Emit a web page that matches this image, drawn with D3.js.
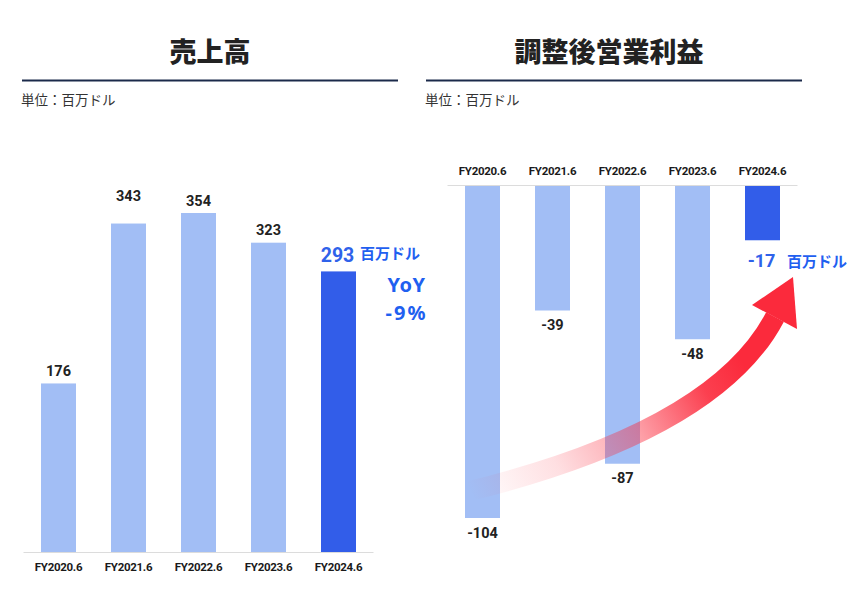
<!DOCTYPE html>
<html><head><meta charset="utf-8">
<script src="https://cdn.jsdelivr.net/npm/d3@7"></script>
<style>
html,body{margin:0;padding:0;background:#fff;}
svg{display:block;}
</style></head>
<body>
<script>
const categories = ["FY2020.6","FY2021.6","FY2022.6","FY2023.6","FY2024.6"];
const revenue = [176, 343, 354, 323, 293];
const adjOpIncome = [-104, -39, -87, -48, -17];
const titleLeft = "売上高";
const titleRight = "調整後営業利益";
const unitLabel = "単位：百万ドル";
const unitShort = "百万ドル";
const yoyLines = ["YoY", "-9%"];

const W = 865, H = 603;
const light = "#a2bef5", dark = "#325de9", blueText = "#2f62ea", ink = "#222";
const jp = "'Noto Sans CJK JP','Noto Sans',sans-serif";
const num = "Roboto,'Open Sans',sans-serif";

const svg = d3.select("body").append("svg").attr("width", W).attr("height", H);

// headers
function header(cx, x0, x1, title) {
  svg.append("text").attr("x", cx).attr("y", 50).attr("text-anchor","middle")
    .attr("dominant-baseline","central").attr("font-family", jp).attr("font-weight",900)
    .attr("font-size", 27).attr("fill", ink).text(title);
  svg.append("line").attr("x1", x0).attr("x2", x1).attr("y1", 80.5).attr("y2", 80.5)
    .attr("stroke", "#1b2a4a").attr("stroke-width", 2);
  svg.append("text").attr("x", x0 - 1).attr("y", 99).attr("dominant-baseline","central")
    .attr("font-family", jp).attr("font-size", 13.5).attr("fill", "#333").text(unitLabel);
}
header(210, 22, 398, titleLeft);
header(609, 426, 802, titleRight);

// ---------- Left chart: revenue ----------
const xL = d3.scaleBand().domain(categories).range([23.5, 373.5]).paddingInner(0.5).paddingOuter(0.25);
const yL = d3.scaleLinear().domain([0, 354]).range([552, 213]);
const last = categories.length - 1;

svg.append("g").selectAll("rect").data(revenue).join("rect")
  .attr("x", (d,i) => xL(categories[i])).attr("width", xL.bandwidth())
  .attr("y", d => yL(d)).attr("height", d => yL(0) - yL(d))
  .attr("fill", (d,i) => i === last ? dark : light);

const axL = svg.append("g").attr("transform", `translate(0,${yL(0)})`)
  .call(d3.axisBottom(xL).tickSize(0).tickPadding(11));
axL.select(".domain").attr("stroke", "#dcdcdc").attr("d", `M${xL.range()[0]},0.5H${xL.range()[1]}`);
axL.selectAll("text").attr("font-family", num).attr("font-weight", 700).attr("font-size", 11.5)
  .attr("fill", "#1a1a1a").attr("letter-spacing", -0.3);

svg.append("g").selectAll("text").data(revenue).join("text")
  .attr("x", (d,i) => xL(categories[i]) + xL.bandwidth()/2 + (i === last ? -1 : 0))
  .attr("y", (d,i) => yL(d) - (i === last ? 16 : (i === 1 ? 27 : 12)))
  .attr("text-anchor","middle").attr("dominant-baseline","central")
  .attr("font-family", num).attr("font-weight", 700)
  .attr("font-size", (d,i) => i === last ? 19.5 : 14.5)
  .attr("fill", (d,i) => i === last ? blueText : ink)
  .text(d => d);

svg.append("text").attr("x", 360).attr("y", 252).attr("dominant-baseline","central")
  .attr("font-family", jp).attr("font-weight", 700).attr("font-size", 15).attr("fill", "#1f60f0")
  .text(unitShort);
svg.append("g").selectAll("text").data(yoyLines).join("text")
  .attr("x", 406.5).attr("y", (d,i) => 284 + i*28).attr("text-anchor","middle")
  .attr("dominant-baseline","central").attr("font-family", "'Noto Sans',sans-serif")
  .attr("font-weight", 700).attr("font-size", 20).attr("fill", "#1f60f0")
  .attr("letter-spacing", (d,i) => i === 1 ? 2 : 0.5).text(d => d);

// ---------- Right chart: adjusted operating income ----------
const xR = d3.scaleBand().domain(categories).range([447.5, 797.5]).paddingInner(0.5).paddingOuter(0.25);
const yR = d3.scaleLinear().domain([0, -104]).range([186, 518]);

svg.append("g").selectAll("rect").data(adjOpIncome).join("rect")
  .attr("x", (d,i) => xR(categories[i])).attr("width", xR.bandwidth())
  .attr("y", yR(0)).attr("height", d => yR(d) - yR(0))
  .attr("fill", (d,i) => i === last ? dark : light);

const axR = svg.append("g").attr("transform", `translate(0,${yR(0)})`)
  .call(d3.axisTop(xR).tickSize(0).tickPadding(11));
axR.select(".domain").attr("stroke", "#dcdcdc").attr("d", `M${xR.range()[0]},-0.5H${xR.range()[1]}`);
axR.selectAll("text").attr("font-family", num).attr("font-weight", 700).attr("font-size", 11.5)
  .attr("fill", "#1a1a1a").attr("letter-spacing", -0.3);

svg.append("g").selectAll("text").data(adjOpIncome).join("text")
  .attr("x", (d,i) => xR(categories[i]) + xR.bandwidth()/2 + (i === last ? -1 : 0))
  .attr("y", (d,i) => yR(d) + (i === last ? 20 : 15))
  .attr("text-anchor","middle").attr("dominant-baseline","central")
  .attr("font-family", num).attr("font-weight", 700)
  .attr("font-size", (d,i) => i === last ? 18 : 14.5)
  .attr("fill", (d,i) => i === last ? blueText : ink)
  .text(d => d);

svg.append("text").attr("x", 787).attr("y", 260).attr("dominant-baseline","central")
  .attr("font-family", jp).attr("font-weight", 700).attr("font-size", 15).attr("fill", "#1f60f0")
  .text(unitShort);

// ---------- Arrow (decoration) ----------
const defs = svg.append("defs");
const grad = defs.append("linearGradient").attr("id","arrowGrad")
  .attr("gradientUnits","userSpaceOnUse")
  .attr("x1", 470).attr("y1", 492).attr("x2", 780).attr("y2", 320);
[[0,0],[0.25,0.15],[0.5,0.45],[0.72,0.9],[0.85,1]].forEach(([o,a]) =>
  grad.append("stop").attr("offset", o).attr("stop-color", "#fb2a3c").attr("stop-opacity", a));

const p0 = [470, 491], c = [716, 430], p2 = [775, 317];
svg.append("path").attr("d", `M${p0}Q${c} ${p2}`)
  .attr("fill","none").attr("stroke","url(#arrowGrad)").attr("stroke-width", 20);
svg.append("path").attr("d", "M752,305L793,277L797,329Z").attr("fill", "#fb2a3c");
</script>
</body></html>
